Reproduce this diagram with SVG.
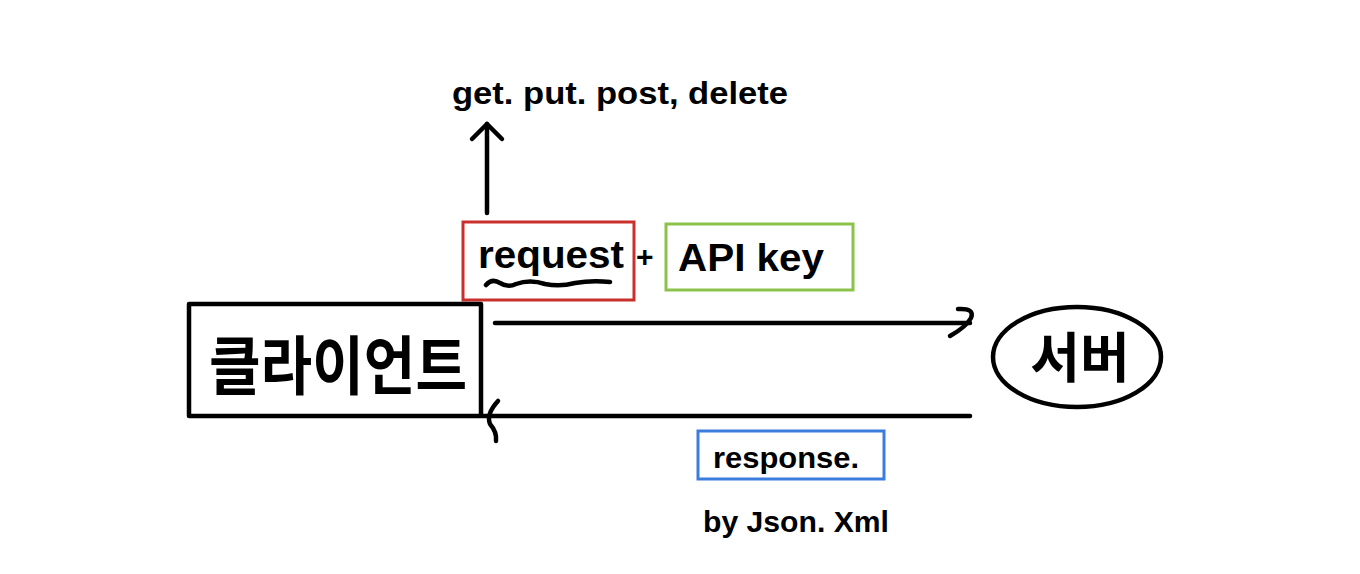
<svg xmlns="http://www.w3.org/2000/svg" width="1360" height="574" viewBox="0 0 1360 574">
<style>
.ink{fill:none;stroke:#000;stroke-width:4.5;stroke-linecap:round;stroke-linejoin:round}
.t{font-family:"Liberation Sans","Noto Sans CJK KR",sans-serif;fill:#000;font-weight:bold}
.k{font-family:"Noto Sans CJK KR","Liberation Sans",sans-serif;fill:#000;font-weight:bold}
.box{fill:none;stroke-width:3}
</style>
<rect width="1360" height="574" fill="#fff"/>
<g id="connectors">
<path class="ink" d="M487 213 L487 124"/>
<path class="ink" d="M472 139 L487 124 L502 139"/>
<path class="ink" d="M495 323 L970 323"/>
<path class="ink" d="M958 309 Q975 308 971 318 Q966 327 950 336"/>
<path class="ink" d="M482 416 L970 416"/>
<path class="ink" d="M498 401 Q486 414 490 424 Q497 432 496 441"/>
</g>
<g id="methods">
<text class="t" x="452" y="104" font-size="32" textLength="336" lengthAdjust="spacingAndGlyphs">get. put. post, delete</text>
</g>
<g id="request">
<rect class="box" x="463" y="222" width="171" height="78" stroke="#c9302c"/>
<text class="t" x="478" y="268" font-size="38" textLength="146" lengthAdjust="spacingAndGlyphs">request</text>
<path class="ink" d="M486 285 Q492 278 500 283 Q508 288 516 284 Q530 279 545 284 Q560 287 575 283 Q592 280 610 282"/>
</g>
<text class="t" x="636" y="267" font-size="30">+</text>
<g id="apikey">
<rect class="box" x="666" y="224" width="187" height="66" stroke="#8bc34a"/>
<text class="t" x="678" y="271" font-size="38" textLength="146" lengthAdjust="spacingAndGlyphs">API key</text>
</g>
<g id="client">
<rect class="ink" x="189" y="304" width="292" height="112"/>
<text class="k" x="338" y="389" font-size="64" text-anchor="middle" textLength="258" lengthAdjust="spacingAndGlyphs">클라이언트</text>
</g>
<g id="server">
<ellipse class="ink" cx="1077" cy="357" rx="84" ry="50"/>
<text class="k" x="1080" y="378" font-size="54" text-anchor="middle">서버</text>
</g>
<g id="response">
<rect class="box" x="698" y="431" width="186" height="48" stroke="#3b7ddd"/>
<text class="t" x="713" y="468" font-size="30" textLength="146" lengthAdjust="spacingAndGlyphs">response.</text>
</g>
<g id="format">
<text class="t" x="703" y="532" font-size="30" textLength="186" lengthAdjust="spacingAndGlyphs">by Json. Xml</text>
</g>
</svg>
